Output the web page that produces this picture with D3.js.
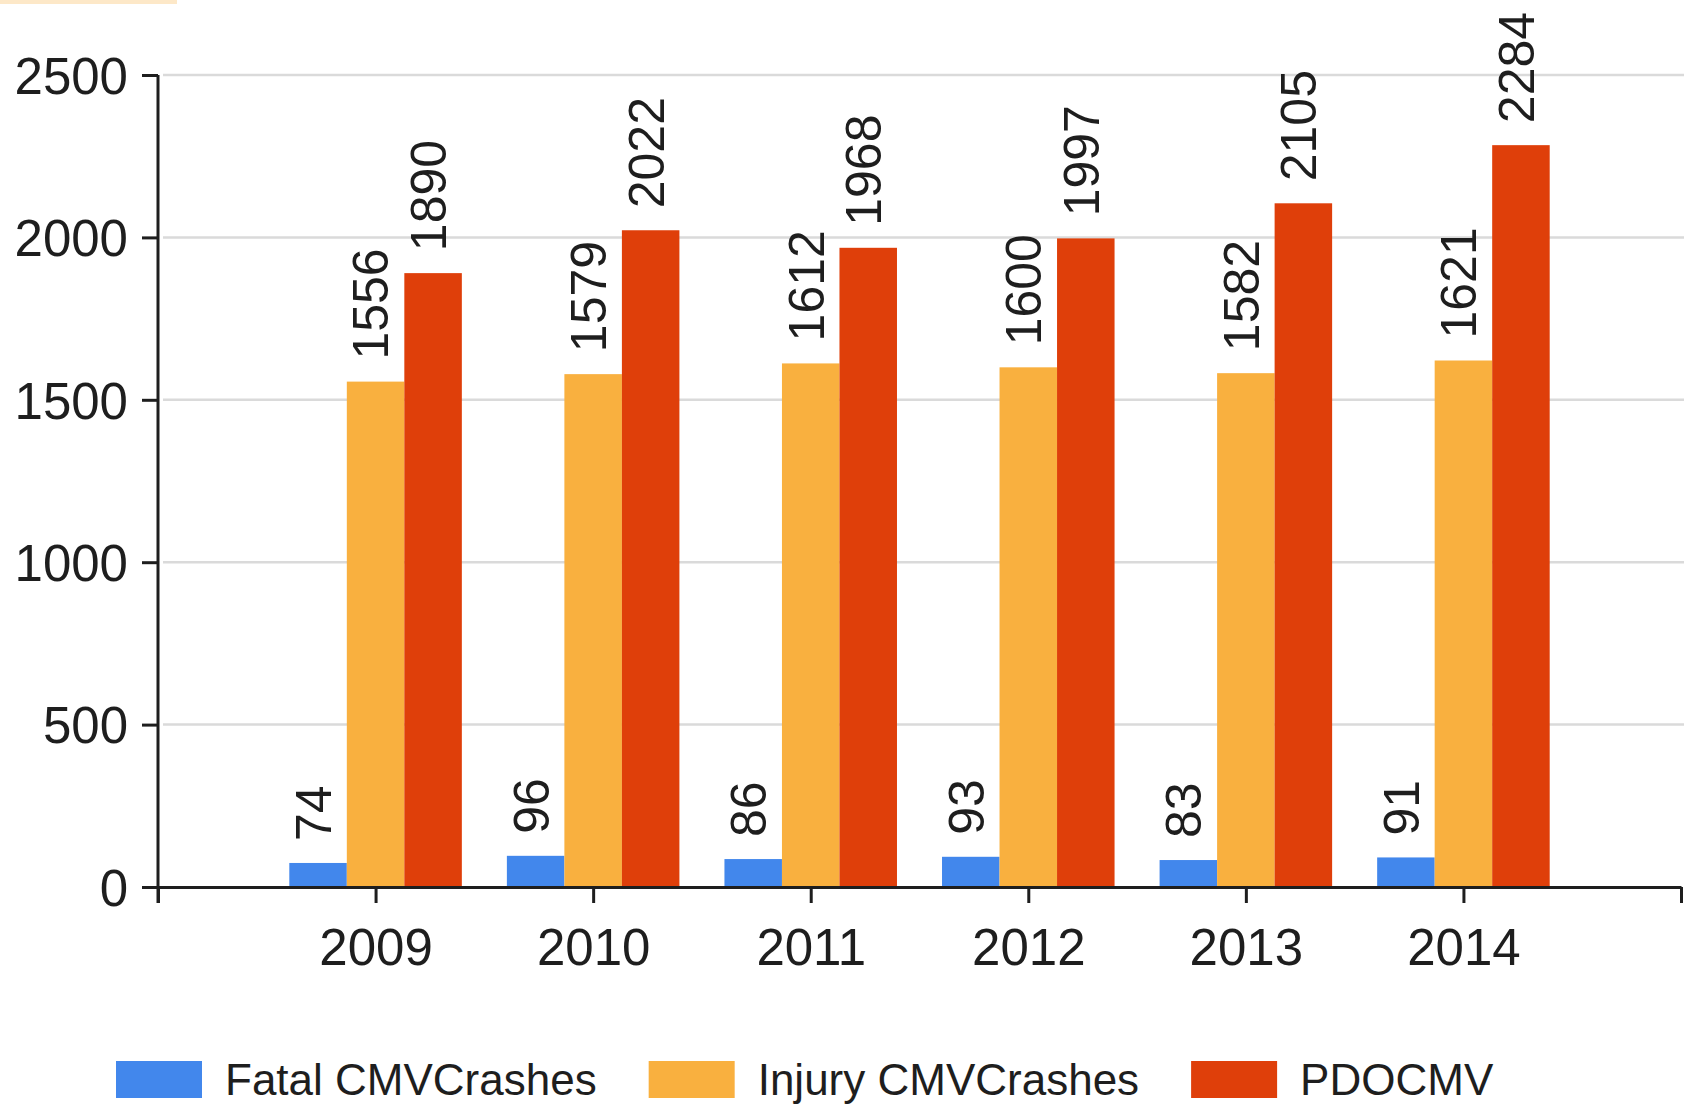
<!DOCTYPE html>
<html>
<head>
<meta charset="utf-8">
<script src="https://cdn.jsdelivr.net/npm/d3@7"></script>
<style>
  html, body { margin: 0; padding: 0; background: #fff; }
  svg { display: block; }
  text { font-family: "Liberation Sans", Arial, sans-serif; fill: #1e1e1e; }
</style>
</head>
<body>
<svg id="chart" width="1684" height="1106"></svg>
<script>
const years = ["2009", "2010", "2011", "2012", "2013", "2014"];
const seriesNames = ["Fatal CMVCrashes", "Injury CMVCrashes", "PDOCMV"];
const fatal = [74, 96, 86, 93, 83, 91];
const injury = [1556, 1579, 1612, 1600, 1582, 1621];
const pdo = [1890, 2022, 1968, 1997, 2105, 2284];
const yTicks = [0, 500, 1000, 1500, 2000, 2500];
const colors = ["#4287ec", "#f9b03f", "#df3f0a"];

const seriesValues = [fatal, injury, pdo];

(function () {
const svg = d3.select("#chart");
const W = 1684, H = 1106;
const mLeft = 158, mRight = 1681, mTop = 75, mBottom = 887;

// faint strip at the top-left
svg.append("rect").attr("x", 0).attr("y", 0).attr("width", 177).attr("height", 4).attr("fill", "#fde8c8");

const y = d3.scaleLinear().domain([0, 2500]).range([mBottom, mTop]);
const xPos = d3.scalePoint().domain(years).range([mLeft, mRight]).padding(1);
const xLin = d3.scaleLinear().domain([0, years.length + 1]).range([mLeft, mRight]);
const groupW = xPos.step() * 0.793;
const xSeries = d3.scaleBand().domain(seriesNames).range([-groupW / 2, groupW / 2]).padding(0);

// gridlines
svg.append("g").selectAll("line").data(yTicks.filter(d => d > 0)).join("line")
  .attr("x1", mLeft + 5).attr("x2", W)
  .attr("y1", d => y(d)).attr("y2", d => y(d))
  .attr("stroke", "#dadada").attr("stroke-width", 2.5);

// bars
const data = [];
years.forEach((yr, i) => seriesNames.forEach((s, j) => data.push({ yr, s, j, v: seriesValues[j][i] })));

svg.append("g").selectAll("rect").data(data).join("rect")
  .attr("x", d => xPos(d.yr) + xSeries(d.s))
  .attr("width", xSeries.bandwidth())
  .attr("y", d => y(d.v))
  .attr("height", d => y(0) - y(d.v))
  .attr("fill", d => colors[d.j]);

// value labels
const labelFs = 50;
svg.append("g").selectAll("text").data(data).join("text")
  .attr("transform", d => {
    const cx = xPos(d.yr) + xSeries(d.s) + xSeries.bandwidth() / 2 - 5 + 0.358 * labelFs;
    const cy = y(d.v) - 22;
    return `translate(${cx},${cy}) rotate(-90)`;
  })
  .attr("text-anchor", "start")
  .style("font-size", labelFs + "px")
  .text(d => d.v);

// y axis
const yAxis = d3.axisLeft(y).tickValues(yTicks).tickFormat(d3.format("d")).tickSize(16).tickSizeOuter(0).tickPadding(14);
const gy = svg.append("g").attr("transform", `translate(${mLeft},0)`).call(yAxis);
gy.select(".domain").attr("stroke", "#1e1e1e").attr("stroke-width", 3).attr("d", `M0,${mTop}V${mBottom + 16}`);
gy.selectAll(".tick line").attr("stroke", "#1e1e1e").attr("stroke-width", 3);
gy.selectAll(".tick text").style("font-size", "51px").style("font-family", '"Liberation Sans", Arial, sans-serif').attr("fill", "#1e1e1e").attr("dy", "0.36em");

// x axis
const xAxis = d3.axisBottom(xLin).tickValues(d3.range(0, years.length + 2)).tickSize(16).tickSizeOuter(0)
  .tickPadding(26).tickFormat(i => years[i - 1] || "");
const gx = svg.append("g").attr("transform", `translate(0,${mBottom})`).call(xAxis);
gx.select(".domain").attr("stroke", "#1e1e1e").attr("stroke-width", 3);
gx.selectAll(".tick line").attr("stroke", "#1e1e1e").attr("stroke-width", 3);
gx.selectAll(".tick text").style("font-size", "51px").style("font-family", '"Liberation Sans", Arial, sans-serif').attr("fill", "#1e1e1e");

// legend
const legend = svg.append("g");
let lx = 116;
seriesNames.forEach((s, j) => {
  legend.append("rect").attr("x", lx).attr("y", 1061).attr("width", 86).attr("height", 37).attr("fill", colors[j]);
  const t = legend.append("text").attr("x", lx + 109).attr("y", 1095).style("font-size", "44px").text(s);
  lx = lx + 109 + t.node().getComputedTextLength() + 52;
});
})();
</script>
</body>
</html>
